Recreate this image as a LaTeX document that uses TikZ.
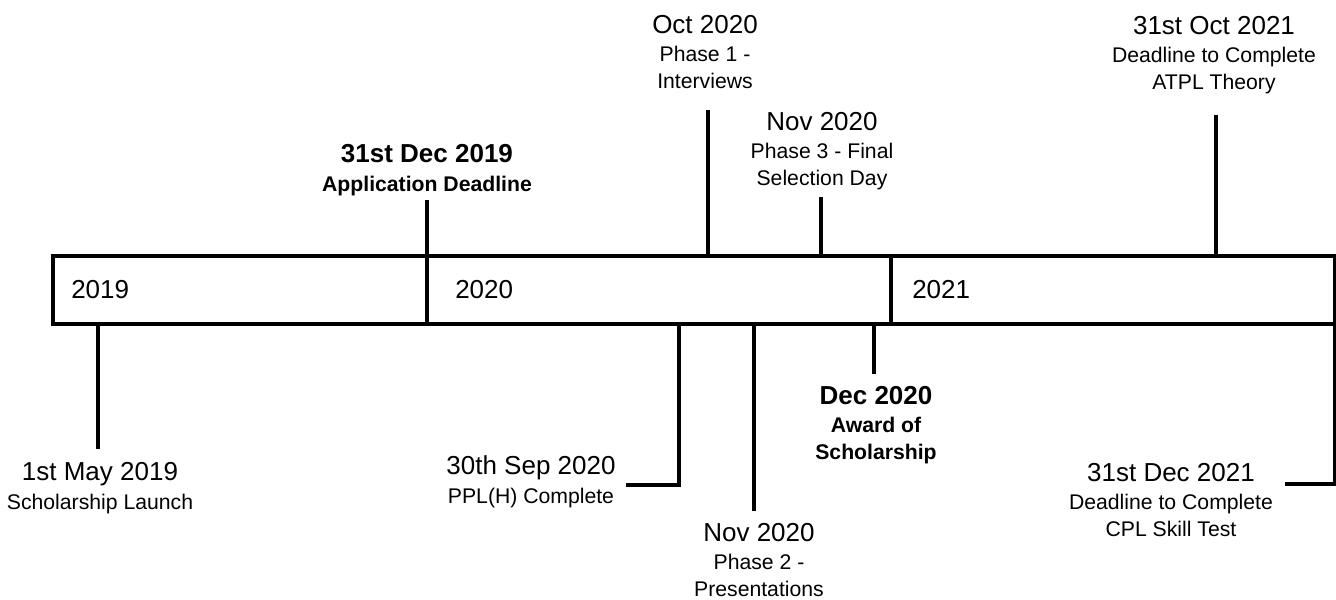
\documentclass[tikz,border=0pt]{standalone}
\usepackage{fontspec}
\setmainfont{Liberation Sans}
\newcommand{\evdate}[1]{{\fontsize{19.5}{23}\selectfont #1}}
\begin{document}
\begin{tikzpicture}[x=0.75pt,y=-0.75pt,
    bar/.style={line width=3pt},
    event/.style={align=center,inner sep=0pt,anchor=base,font=\fontsize{15.9}{19.8}\selectfont},
    year/.style={anchor=base west,inner sep=0pt,font=\fontsize{19.5}{23}\selectfont}]
\useasboundingbox (0,0) rectangle (1336,600);

% Timeline bar
\draw[bar] (53,256) rectangle (1335,324);
\foreach \x in {427,891}
    \draw[bar] (\x,256) -- (\x,324);
\foreach \x/\yr in {71/2019, 455/2020, 912/2021}
    \node[year] (year\yr) at (\x,298) {\yr};

% Ticks above the bar
\foreach \ev/\x/\yend in {dec19/427/200, oct20/708/110, nov20a/821/197, oct21/1216/115} {
    \coordinate (\ev-a) at (\x,256);
    \coordinate (\ev-b) at (\x,\yend);
    \draw[bar] (\ev-a) -- (\ev-b);
}

% Ticks below the bar
\foreach \ev/\x/\yend in {may19/98/449, nov20b/754/511, dec20/874/374} {
    \coordinate (\ev-a) at (\x,324);
    \coordinate (\ev-b) at (\x,\yend);
    \draw[bar] (\ev-a) -- (\ev-b);
}
\coordinate (sep20-a) at (679,324);
\coordinate (sep20-b) at (626,485);
\draw[bar] (sep20-a) |- (sep20-b);
\coordinate (dec21-a) at (1335,324);
\coordinate (dec21-b) at (1285,484);
\draw[bar] (dec21-a) |- (dec21-b);

% Labels (anchored at the baseline of their last line)
\node[event] (dec19) at (427,191) {\textbf{\evdate{31st Dec 2019}}\\[1.5pt]\textbf{Application Deadline}};
\node[event] (oct20) at (705,88) {\evdate{Oct 2020}\\[1.5pt]Phase 1 -\\Interviews};
\node[event] (nov20a) at (822,185) {\evdate{Nov 2020}\\[1.5pt]Phase 3 - Final\\Selection Day};
\node[event] (oct21) at (1214,89) {\evdate{31st Oct 2021}\\[1.5pt]Deadline to Complete\\ATPL Theory};
\node[event] (may19) at (100,509) {\evdate{1st May 2019}\\[1.5pt]Scholarship Launch};
\node[event] (sep20) at (531,503) {\evdate{30th Sep 2020}\\[1.5pt]PPL(H) Complete};
\node[event] (nov20b) at (759,596) {\evdate{Nov 2020}\\[1.5pt]Phase 2 -\\Presentations};
\node[event] (dec20) at (876,459) {\textbf{\evdate{Dec 2020}}\\[1.5pt]\textbf{Award of}\\\textbf{Scholarship}};
\node[event] (dec21) at (1171,536) {\evdate{31st Dec 2021}\\[1.5pt]Deadline to Complete\\CPL Skill Test};
\end{tikzpicture}
\end{document}
